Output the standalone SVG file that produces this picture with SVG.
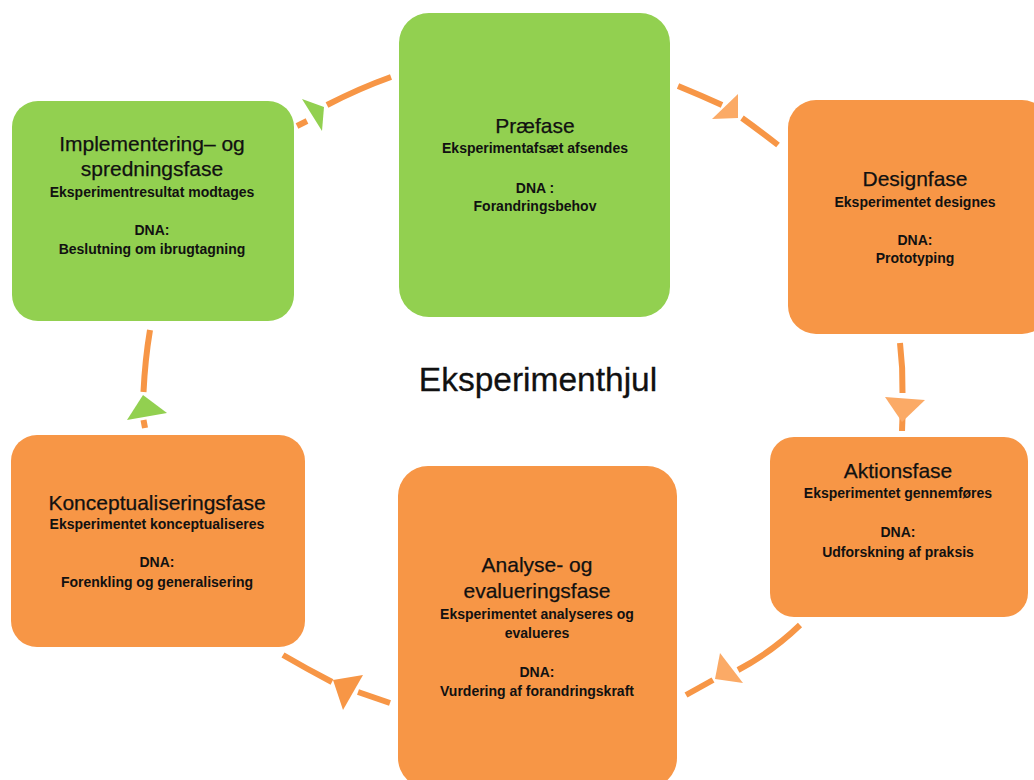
<svg xmlns="http://www.w3.org/2000/svg" width="1034" height="780" viewBox="0 0 1034 780">
<style>
.g{fill:#92d050}
.o{fill:#f79646}
.h{font-family:"Liberation Sans",Arial,sans-serif;font-size:21px;fill:#111;text-anchor:middle;stroke:#111;stroke-width:0.25}
.s{font-family:"Liberation Sans",Arial,sans-serif;font-size:14px;font-weight:bold;fill:#111;text-anchor:middle}
.t{font-family:"Liberation Sans",Arial,sans-serif;font-size:33.5px;fill:#111;text-anchor:middle;stroke:#111;stroke-width:0.3}
.c{fill:none;stroke:#f79646;stroke-width:6}
.ag{fill:#92d050}
.al{fill:#fbaa66}
.ao{fill:#f79646}
</style>
<rect width="1034" height="780" fill="#fff"/>
<g id="connectors">
<path class="c" d="M391,77 Q360,88 327,105"/>
<path class="c" d="M307,121 L297,126"/>
<polygon class="ag" points="302,99 324,107 322,131"/>
<path class="c" d="M678,86 Q700,95 722,105"/>
<path class="c" d="M742,118 Q760,131 778,145"/>
<polygon class="al" points="738,94 738,118 712,119"/>
<path class="c" d="M900,343 Q903,368 902.5,393"/>
<path class="c" d="M902.5,417 L902,431"/>
<polygon class="al" points="885,397 925,400 902,422"/>
<path class="c" d="M800,625 Q772,652 738,670"/>
<path class="c" d="M713,680 L686,695"/>
<polygon class="al" points="720,653 743,683 715,679"/>
<path class="c" d="M283,655 Q307,669 332,682"/>
<path class="c" d="M358,692 L390,703"/>
<polygon class="ao" points="333,680 363,675 343,710"/>
<path class="c" d="M150,330 Q145,360 143.5,392"/>
<path class="c" d="M143.5,420 L145,428"/>
<polygon class="ag" points="143,395 167,413 127,420"/>
</g>
<g id="impl">
<rect class="g" x="12" y="101" width="282" height="220" rx="26"/>
<text class="h" x="152" y="151">Implementering– og</text>
<text class="h" x="152" y="176">spredningsfase</text>
<text class="s" x="152" y="197">Eksperimentresultat modtages</text>
<text class="s" x="152" y="235">DNA:</text>
<text class="s" x="152" y="254">Beslutning om ibrugtagning</text>
</g>
<g id="praefase">
<rect class="g" x="399" y="13" width="271" height="304" rx="30"/>
<text class="h" x="535" y="133">Præfase</text>
<text class="s" x="535" y="153">Eksperimentafsæt afsendes</text>
<text class="s" x="535" y="193">DNA :</text>
<text class="s" x="535" y="211">Forandringsbehov</text>
</g>
<g id="design">
<rect class="o" x="788" y="100" width="262" height="234" rx="28"/>
<text class="h" x="915" y="186">Designfase</text>
<text class="s" x="915" y="207">Eksperimentet designes</text>
<text class="s" x="915" y="245">DNA:</text>
<text class="s" x="915" y="263">Prototyping</text>
</g>
<g id="aktion">
<rect class="o" x="770" y="437" width="258" height="180" rx="24"/>
<text class="h" x="898" y="478">Aktionsfase</text>
<text class="s" x="898" y="498">Eksperimentet gennemføres</text>
<text class="s" x="898" y="537">DNA:</text>
<text class="s" x="898" y="557">Udforskning af praksis</text>
</g>
<g id="analyse">
<rect class="o" x="398" y="466" width="279" height="322" rx="30"/>
<text class="h" x="537" y="572">Analyse- og</text>
<text class="h" x="537" y="598">evalueringsfase</text>
<text class="s" x="537" y="619">Eksperimentet analyseres og</text>
<text class="s" x="537" y="638">evalueres</text>
<text class="s" x="537" y="677">DNA:</text>
<text class="s" x="537" y="696">Vurdering af forandringskraft</text>
</g>
<g id="koncept">
<rect class="o" x="11" y="435" width="294" height="212" rx="26"/>
<text class="h" x="157" y="510">Konceptualiseringsfase</text>
<text class="s" x="157" y="529">Eksperimentet konceptualiseres</text>
<text class="s" x="157" y="567">DNA:</text>
<text class="s" x="157" y="587">Forenkling og generalisering</text>
</g>
<text id="title" class="t" x="538" y="391">Eksperimenthjul</text>
</svg>
